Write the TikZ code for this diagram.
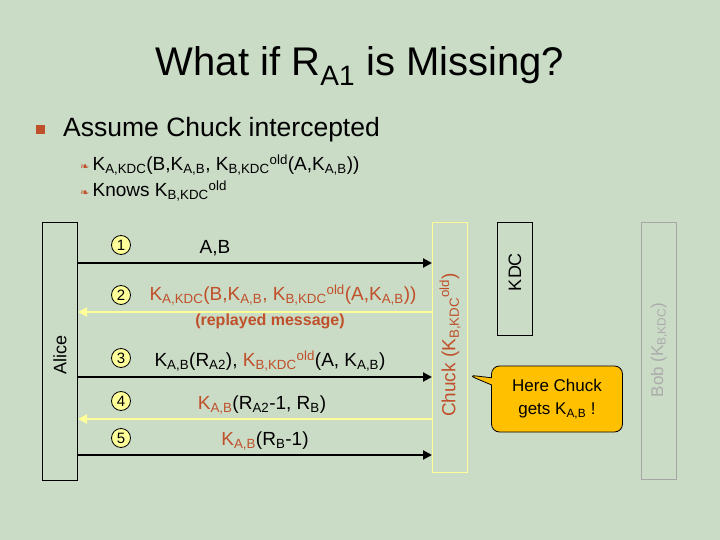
\documentclass[tikz,border=0pt]{standalone}
\usepackage{fontspec}
\setmainfont{Liberation Sans}
\newfontfamily\dejavu{DejaVu Sans}
\usetikzlibrary{arrows.meta,shapes.callouts}
\definecolor{bg}{HTML}{CADBC6}
\definecolor{rust}{HTML}{C0502A}
\definecolor{paley}{HTML}{FFFF99}
\definecolor{callo}{HTML}{FFC000}
\tikzset{
 actor/.style={draw,line width=0.8pt,minimum width=35pt,anchor=north},
 msgR/.style={line width=2pt,-{Triangle[length=9pt,width=9pt]}},
 msgL/.style={line width=2pt,draw=paley,-{Triangle[length=9pt,width=9pt]}},
 num/.style={circle,draw,line width=0.8pt,fill=paley,inner sep=0pt,minimum size=19pt,font=\fontsize{15}{15}\selectfont},
 lbl/.style={font=\fontsize{19}{21}\selectfont,inner sep=0pt},
}
\begin{document}
\begin{tikzpicture}[x=1pt,y=-1pt]
\fill[bg] (0,0) rectangle (720,540);
\useasboundingbox (0,0) rectangle (720,540);
\node[font=\fontsize{40}{42}\selectfont] (title) at (360,66) {What if R\textsubscript{A1} is Missing?};
\node[fill=rust,minimum size=9pt,inner sep=0pt] (sq) at (40,130) {};
\node[anchor=west,font=\fontsize{26.5}{28}\selectfont,inner sep=0pt] (b1) at (63,130) {Assume Chuck intercepted};
\node[anchor=west,font=\fontsize{19}{21}\selectfont,inner sep=0pt] (b2) at (80,165) {\textcolor{rust}{\dejavu\fontsize{11}{11}\selectfont ❧}\,K\textsubscript{A,KDC}(B,K\textsubscript{A,B}, K\textsubscript{B,KDC}\textsuperscript{old}(A,K\textsubscript{A,B}))};
\node[anchor=west,font=\fontsize{19}{21}\selectfont,inner sep=0pt] (b3) at (80,191) {\textcolor{rust}{\dejavu\fontsize{11}{11}\selectfont ❧}\,Knows K\textsubscript{B,KDC}\textsuperscript{old}};
% actors
\node[actor,minimum height=258pt] (alice) at (60,222) {};
\node[rotate=90,font=\fontsize{18}{20}\selectfont] (al) at (60,355) {Alice};
\node[actor,draw=paley,minimum height=250pt] (chuck) at (450,222) {};
\node[rotate=90,font=\fontsize{19}{21}\selectfont,text=rust] (cl) at (450,345) {Chuck (K\textsubscript{B,KDC}\textsuperscript{old})};
\node[actor,minimum height=113pt] (kdc) at (515,222) {};
\node[rotate=90,font=\fontsize{18}{20}\selectfont] (kl) at (515,272) {KDC};
\node[actor,draw=gray!70,minimum height=257pt] (bob) at (659,222) {};
\node[rotate=90,font=\fontsize{17}{19}\selectfont,text=gray!65] (bl) at (659,350) {Bob (K\textsubscript{B,KDC})};
% coordinates
\coordinate (a1) at (78,263); \coordinate (c1) at (432,263);
\coordinate (a2) at (78,312); \coordinate (c2) at (432,312);
\coordinate (a3) at (78,377); \coordinate (c3) at (432,377);
\coordinate (a4) at (78,419); \coordinate (c4) at (432,419);
\coordinate (a5) at (78,455); \coordinate (c5) at (432,455);
\draw[msgR] (a1) -- (c1);
\draw[msgL] (c2) -- (a2);
\draw[msgR] (a3) -- (c3);
\draw[msgL] (c4) -- (a4);
\draw[msgR] (a5) -- (c5);
\node[num] (n1) at (121,245) {1};
\node[num] (n2) at (121,295) {2};
\node[num] (n3) at (121,358) {3};
\node[num] (n4) at (121,401) {4};
\node[num] (n5) at (121,438) {5};
\node[lbl] (m1) at (215,248) {A,B};
\node[lbl,text=rust] (m2) at (283,295) {K\textsubscript{A,KDC}(B,K\textsubscript{A,B}, K\textsubscript{B,KDC}\textsuperscript{old}(A,K\textsubscript{A,B}))};
\node[lbl,text=rust,font=\bfseries\fontsize{16}{18}\selectfont] (m2b) at (270,321) {(replayed message)};
\node[lbl] (m3) at (270,361) {K\textsubscript{A,B}(R\textsubscript{A2}), \textcolor{rust}{K\textsubscript{B,KDC}\textsuperscript{old}}(A, K\textsubscript{A,B})};
\node[lbl] (m4) at (262,405) {\textcolor{rust}{K\textsubscript{A,B}}(R\textsubscript{A2}-1, R\textsubscript{B})};
\node[lbl] (m5) at (265,441) {\textcolor{rust}{K\textsubscript{A,B}}(R\textsubscript{B}-1)};
\node[rectangle callout,rounded corners=8pt,draw,line width=0.8pt,fill=callo,minimum width=131pt,minimum height=66pt,align=center,font=\fontsize{17}{23}\selectfont,callout absolute pointer={(468,375)}] (call) at (557,399) {Here Chuck\\gets K\textsubscript{A,B} !};
\end{tikzpicture}
\end{document}
